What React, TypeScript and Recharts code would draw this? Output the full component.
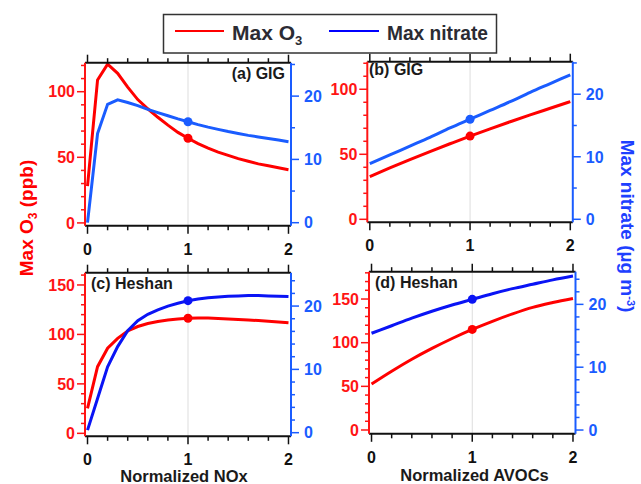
import React from 'react';
import { LineChart, Line, XAxis, YAxis, ReferenceLine } from 'recharts';

const FONT = '"Liberation Sans", Arial, Helvetica, sans-serif';

// normalized emission factors
const noxSteps = [0, 0.1, 0.2, 0.3, 0.4, 0.5, 0.6, 0.7, 0.8, 0.9, 1, 1.1, 1.2, 1.3, 1.4, 1.5, 1.6, 1.7, 1.8, 1.9, 2];
const avocSteps = [0, 0.2, 0.4, 0.6, 0.8, 1, 1.2, 1.4, 1.6, 1.8, 2];

// (a) GIG vs NOx
const gigNoxO3 = [28, 109, 121, 114, 103.5, 94, 87, 80.5, 74.5, 69, 64.5, 60.5, 57, 54, 51.5, 49, 47, 45, 43.5, 42, 40.5];
const gigNoxNitrate = [0, 14.1, 18.7, 19.4, 19.0, 18.5, 17.9, 17.4, 16.9, 16.4, 15.95, 15.5, 15.1, 14.75, 14.4, 14.1, 13.8, 13.55, 13.3, 13.05, 12.8];
// (b) GIG vs AVOCs
const gigVocO3 = [32.8, 39.5, 45.9, 52.1, 58.1, 64.0, 69.6, 75.0, 80.3, 85.4, 90.5];
const gigVocNitrate = [8.9, 10.3, 11.7, 13.1, 14.6, 16.0, 17.4, 18.8, 20.3, 21.7, 23.1];
// (c) Heshan vs NOx
const heshanNoxO3 = [25.3, 67.4, 86, 96, 103.5, 108, 111, 113, 114.5, 115.5, 116.4, 116.6, 116.5, 116.2, 115.7, 115.2, 114.6, 114, 113.3, 112.6, 111.8];
const heshanNoxNitrate = [0.4, 5.4, 10.4, 13.6, 16.1, 17.7, 18.7, 19.4, 20.0, 20.45, 20.85, 21.1, 21.3, 21.45, 21.55, 21.6, 21.65, 21.65, 21.6, 21.55, 21.5];
// (d) Heshan vs AVOCs
const heshanVocO3 = [52.6, 67.3, 81.0, 93.4, 104.8, 115.2, 124.5, 133.0, 140.5, 146.0, 150.7];
const heshanVocNitrate = [15.4, 16.6, 17.8, 18.9, 19.9, 20.8, 21.7, 22.5, 23.2, 23.9, 24.5];

// ticks
const xTicks = [0, 0.2, 0.4, 0.6, 0.8, 1, 1.2, 1.4, 1.6, 1.8, 2];
const xMajor = [0, 1, 2];
const o3TicksGig = [0, 10, 20, 30, 40, 50, 60, 70, 80, 90, 100, 110, 120];
const o3TicksHeshanNox = [0, 10, 20, 30, 40, 50, 60, 70, 80, 90, 100, 110, 120, 130, 140, 150, 160];
const o3TicksHeshanVoc = [0, 10, 20, 30, 40, 50, 60, 70, 80, 90, 100, 110, 120, 130, 140, 150, 160, 170, 180];
const o3MajorGig = [0, 50, 100];
const o3MajorHeshan = [0, 50, 100, 150];
const nitrateTicksGig = [0, 5, 10, 15, 20, 25];
const nitrateTicksHeshan = [0, 2, 4, 6, 8, 10, 12, 14, 16, 18, 20, 22, 24];
const nitrateMajor = [0, 10, 20];

const RED = '#ff0000';
const RED_AX = '#ff1414';
const BLUE_AX = '#1a5cff';
const TS = 8;
const TM = 2;

const isMajor = (v: number, majors: number[]) => majors.some((m) => Math.abs(m - v) < 1e-6);

const leftTick = (color: string, majors: number[]) => (p: any) => {
  const ax = p.x + TS + TM;
  const major = isMajor(p.payload.value, majors);
  return (
    <g>
      <line x1={ax - (major ? 8 : 4)} x2={ax} y1={p.y} y2={p.y} stroke={color} strokeWidth={1.5} />
      {major && (
        <text x={ax - 10} y={p.y} dy="0.36em" textAnchor="end" fill={color} fontSize={16} fontWeight="bold" fontFamily={FONT}>
          {p.payload.value}
        </text>
      )}
    </g>
  );
};

const rightTick = (color: string, majors: number[]) => (p: any) => {
  const ax = p.x - TS - TM;
  const major = isMajor(p.payload.value, majors);
  return (
    <g>
      <line x1={ax} x2={ax + (major ? 8 : 4)} y1={p.y} y2={p.y} stroke={color} strokeWidth={1.5} />
      {major && (
        <text x={ax + 13} y={p.y} dy="0.36em" textAnchor="start" fill={color} fontSize={16} fontWeight="bold" fontFamily={FONT}>
          {p.payload.value}
        </text>
      )}
    </g>
  );
};

const bottomTick = (p: any) => {
  const ay = p.y - TS - TM;
  const major = isMajor(p.payload.value, xMajor);
  return (
    <g>
      <line x1={p.x} x2={p.x} y1={ay} y2={ay + (major ? 8 : 4.5)} stroke="#111" strokeWidth={1.5} />
      {major && (
        <text x={p.x} y={ay + 29} textAnchor="middle" fill="#111" fontSize={16} fontWeight="bold" fontFamily={FONT}>
          {p.payload.value}
        </text>
      )}
    </g>
  );
};

const topTick = (p: any) => {
  const ay = p.y + TS + TM;
  const major = isMajor(p.payload.value, xMajor);
  return <line x1={p.x} x2={p.x} y1={ay - (major ? 8 : 4.5)} y2={ay} stroke="#111" strokeWidth={1.5} />;
};

const dotAtOne = (color: string) => (p: any) =>
  p.payload.x === 1 ? (
    <circle key={`dot-${p.index}`} cx={p.cx} cy={p.cy} r={4.5} fill={color} />
  ) : (
    <g key={`dot-${p.index}`} />
  );

interface PanelProps {
  xs: number[];
  o3: number[];
  nitrate: number[];
  box: { l: number; r: number; t: number; b: number };
  leftDomain: [number, number];
  leftTicks: number[];
  leftMajor: number[];
  rightDomain: [number, number];
  rightTicks: number[];
  blue: string;
  curve: 'linear' | 'monotone';
}

function Panel({ xs, o3, nitrate, box, leftDomain, leftTicks, leftMajor, rightDomain, rightTicks, blue, curve }: PanelProps) {
  const data = xs.map((x, i) => ({ x, o3: o3[i], nitrate: nitrate[i] }));
  return (
    <div style={{ position: 'absolute', left: 0, top: 0 }}>
      <LineChart
        width={641}
        height={484}
        data={data}
        margin={{ top: box.t - 1, bottom: 484 - box.b - 40, left: box.l - 60, right: 641 - box.r - 60 }}
      >
        <XAxis
          xAxisId="b"
          dataKey="x"
          type="number"
          domain={[-0.025, 2.025]}
          allowDataOverflow
          ticks={xTicks}
          interval={0}
          height={40}
          tickSize={TS}
          tickMargin={TM}
          tickLine={false}
          tick={bottomTick}
          axisLine={{ stroke: '#111', strokeWidth: 2 }}
        />
        <XAxis
          xAxisId="t"
          orientation="top"
          dataKey="x"
          type="number"
          domain={[-0.025, 2.025]}
          allowDataOverflow
          ticks={xTicks}
          interval={0}
          height={1}
          tickSize={TS}
          tickMargin={TM}
          tickLine={false}
          tick={topTick}
          axisLine={{ stroke: '#111', strokeWidth: 2 }}
        />
        <YAxis
          yAxisId="l"
          type="number"
          domain={leftDomain}
          allowDataOverflow
          ticks={leftTicks}
          interval={0}
          width={60}
          tickSize={TS}
          tickMargin={TM}
          tickLine={false}
          tick={leftTick(RED_AX, leftMajor)}
          axisLine={{ stroke: RED_AX, strokeWidth: 2 }}
        />
        <YAxis
          yAxisId="r"
          orientation="right"
          type="number"
          domain={rightDomain}
          allowDataOverflow
          ticks={rightTicks}
          interval={0}
          width={60}
          tickSize={TS}
          tickMargin={TM}
          tickLine={false}
          tick={rightTick(BLUE_AX, nitrateMajor)}
          axisLine={{ stroke: BLUE_AX, strokeWidth: 2 }}
        />
        <ReferenceLine x={1} xAxisId="b" yAxisId="l" stroke="#dddddd" strokeWidth={1} />
        <Line
          xAxisId="b"
          yAxisId="l"
          dataKey="o3"
          type={curve}
          stroke={RED}
          strokeWidth={3}
          dot={dotAtOne(RED)}
          activeDot={false}
          isAnimationActive={false}
        />
        <Line
          xAxisId="b"
          yAxisId="r"
          dataKey="nitrate"
          type={curve}
          stroke={blue}
          strokeWidth={3}
          dot={dotAtOne(blue)}
          activeDot={false}
          isAnimationActive={false}
        />
      </LineChart>
    </div>
  );
}

export default function App() {
  const txt = { fontFamily: FONT, fontWeight: 'bold' as const };
  return (
    <div style={{ position: 'absolute', left: 0, top: 0, width: 641, height: 484, background: '#fff', overflow: 'hidden' }}>
      <Panel
        xs={noxSteps}
        o3={gigNoxO3}
        nitrate={gigNoxNitrate}
        box={{ l: 85, r: 291, t: 62.7, b: 225.8 }}
        leftDomain={[-2.2, 122.1]}
        leftTicks={o3TicksGig}
        leftMajor={o3MajorGig}
        rightDomain={[-0.49, 25.28]}
        rightTicks={nitrateTicksGig}
        blue="#1a5cff"
        curve="linear"
      />
      <Panel
        xs={avocSteps}
        o3={gigVocO3}
        nitrate={gigVocNitrate}
        box={{ l: 367.3, r: 572.8, t: 61.7, b: 222.3 }}
        leftDomain={[-2.3, 121.2]}
        leftTicks={o3TicksGig}
        leftMajor={o3MajorGig}
        rightDomain={[-0.48, 25.2]}
        rightTicks={nitrateTicksGig}
        blue="#1a5cff"
        curve="monotone"
      />
      <Panel
        xs={noxSteps}
        o3={heshanNoxO3}
        nitrate={heshanNoxNitrate}
        box={{ l: 85, r: 291, t: 272.7, b: 436.3 }}
        leftDomain={[-3.0, 162.4]}
        leftTicks={o3TicksHeshanNox}
        leftMajor={o3MajorHeshan}
        rightDomain={[-0.57, 25.27]}
        rightTicks={nitrateTicksHeshan}
        blue="#0a14f5"
        curve="linear"
      />
      <Panel
        xs={avocSteps}
        o3={heshanVocO3}
        nitrate={heshanVocNitrate}
        box={{ l: 369, r: 575.5, t: 271.7, b: 433.8 }}
        leftDomain={[-4.35, 181.3]}
        leftTicks={o3TicksHeshanVoc}
        leftMajor={o3MajorHeshan}
        rightDomain={[-0.6, 25.2]}
        rightTicks={nitrateTicksHeshan}
        blue="#0a14f5"
        curve="monotone"
      />
      <svg width={641} height={484} style={{ position: 'absolute', left: 0, top: 0, pointerEvents: 'none' }}>
        {/* legend */}
        <rect x={163.5} y={14.5} width={333} height={38.5} fill="#fff" stroke="#333" strokeWidth={1.5} />
        <line x1={175} x2={224} y1={31} y2={31} stroke={RED} strokeWidth={2} />
        <text x={232} y={40} fill="#2b2b33" fontSize={21} {...txt}>
          Max O<tspan fontSize={13} dy={5}>3</tspan>
        </text>
        <line x1={329} x2={379} y1={31} y2={31} stroke="#0000ff" strokeWidth={2} />
        <text x={387} y={40} fill="#2b2b33" fontSize={21} textLength={101} lengthAdjust="spacingAndGlyphs" {...txt}>
          Max nitrate
        </text>

        {/* panel labels */}
        <text x={285} y={79} textAnchor="end" fill="#1a1a1a" fontSize={16} {...txt}>(a) GIG</text>
        <text x={369} y={75} fill="#1a1a1a" fontSize={16} {...txt}>(b) GIG</text>
        <text x={91} y={289} fill="#1a1a1a" fontSize={16} {...txt}>(c) Heshan</text>
        <text x={375} y={288} fill="#1a1a1a" fontSize={16} {...txt}>(d) Heshan</text>

        {/* axis titles */}
        <text transform="translate(33,218) rotate(-90)" textAnchor="middle" fill={RED} fontSize={19} {...txt}>
          Max O<tspan fontSize={12} dy={4}>3</tspan>
          <tspan dy={-4}> (ppb)</tspan>
        </text>
        <text transform="translate(621,226) rotate(90)" textAnchor="middle" fill="#1e40ff" fontSize={19} {...txt}>
          Max nitrate (µg m<tspan fontSize={11} dy={-6}>-3</tspan>
          <tspan dy={6}>)</tspan>
        </text>
        <text x={184} y={482} textAnchor="middle" fill="#1a1a1a" fontSize={16.5} {...txt}>Normalized NOx</text>
        <text x={474.5} y={481} textAnchor="middle" fill="#1a1a1a" fontSize={16.5} {...txt}>Normalized AVOCs</text>
      </svg>
    </div>
  );
}
